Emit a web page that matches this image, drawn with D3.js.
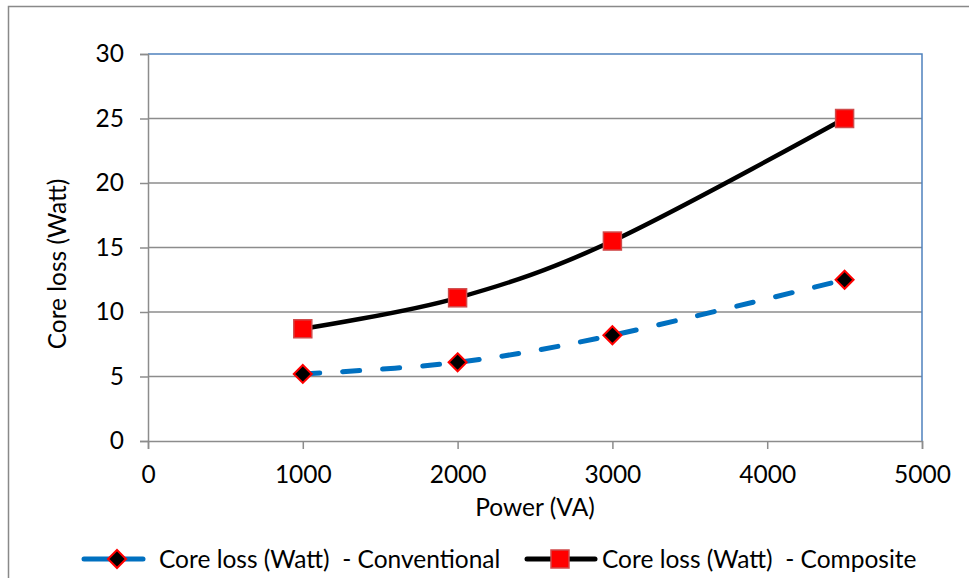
<!DOCTYPE html>
<html>
<head>
<meta charset="utf-8">
<script src="https://cdn.jsdelivr.net/npm/d3@7"></script>
<style>
  html, body { margin: 0; padding: 0; background: #fff; }
  svg { display: block; font-family: Lato, "Open Sans", sans-serif; }
</style>
</head>
<body>
<svg id="chart" width="969" height="578"></svg>
<script>
// Core loss vs. power rating for the two transformer designs
const powerVA = [1000, 2000, 3000, 4500];
const conventionalLoss = [5.2, 6.1, 8.2, 12.5];
const compositeLoss = [8.7, 11.1, 15.5, 25.0];
const xTicks = [0, 1000, 2000, 3000, 4000, 5000];
const yTicks = [0, 5, 10, 15, 20, 25, 30];
const seriesNames = ["Core loss (Watt)  - Conventional", "Core loss (Watt)  - Composite"];

const svg = d3.select("#chart");
const W = 969, H = 578;
const plot = { left: 148, right: 922, top: 54, bottom: 441 };
const fontSize = 24.5;

// outer chart frame
svg.append("rect")
  .attr("x", 8.5).attr("y", 6.5)
  .attr("width", W).attr("height", H)
  .attr("fill", "#fff").attr("stroke", "#898989").attr("stroke-width", 1.5);

const x = d3.scaleLinear().domain([0, 5000]).range([plot.left, plot.right]);
const y = d3.scaleLinear().domain([0, 30]).range([plot.bottom, plot.top]);

// horizontal gridlines
svg.append("g").selectAll("line")
  .data(yTicks.filter(t => t > 0 && t < 30))
  .join("line")
  .attr("x1", plot.left).attr("x2", plot.right)
  .attr("y1", d => y(d)).attr("y2", d => y(d))
  .attr("stroke", "#8c8c8c").attr("stroke-width", 1.5);

// plot-area border: blue top and right edges
svg.append("path")
  .attr("d", `M${plot.left},${y(30)}H${plot.right}V${plot.bottom}`)
  .attr("fill", "none").attr("stroke", "#4f81bd").attr("stroke-width", 1.5);

// axes
const yAxis = svg.append("g")
  .attr("transform", `translate(${plot.left},0)`)
  .call(d3.axisLeft(y).tickValues(yTicks).tickSize(8).tickPadding(16));
const xAxis = svg.append("g")
  .attr("transform", `translate(0,${plot.bottom})`)
  .call(d3.axisBottom(x).tickValues(xTicks).tickSize(8).tickPadding(17).tickFormat(d3.format("d")));

[yAxis, xAxis].forEach(g => {
  g.select(".domain").attr("stroke", "#8c8c8c").attr("stroke-width", 1.5);
  g.selectAll(".tick line").attr("stroke", "#8c8c8c").attr("stroke-width", 1.5);
  g.selectAll(".tick text")
    .attr("fill", "#000")
    .style("font-size", fontSize + "px")
    .style("font-family", "Lato, 'Open Sans', sans-serif");
});

// axis titles
svg.append("text")
  .attr("x", (plot.left + plot.right) / 2).attr("y", 516)
  .attr("text-anchor", "middle")
  .style("font-size", fontSize + "px")
  .text("Power (VA)");
svg.append("text")
  .attr("transform", `translate(66,264) rotate(-90)`)
  .attr("text-anchor", "middle")
  .style("font-size", fontSize + "px")
  .text("Core loss (Watt)");

const line = d3.line()
  .x(d => x(d[0])).y(d => y(d[1]))
  .curve(d3.curveCardinal.tension(0));

const convPts = powerVA.map((p, i) => [p, conventionalLoss[i]]);
const compPts = powerVA.map((p, i) => [p, compositeLoss[i]]);

svg.append("path")
  .attr("d", line(convPts))
  .attr("fill", "none").attr("stroke", "#0070c0").attr("stroke-width", 5)
  .attr("stroke-linecap", "round").attr("stroke-dasharray", "17,23");

svg.append("path")
  .attr("d", line(compPts))
  .attr("fill", "none").attr("stroke", "#000").attr("stroke-width", 4.5);

const diamond = (cx, cy, r) => `M${cx},${cy - r}L${cx + r},${cy}L${cx},${cy + r}L${cx - r},${cy}Z`;

function drawDiamond(g, cx, cy) {
  g.append("path").attr("d", diamond(cx, cy, 9))
    .attr("fill", "#000").attr("stroke", "#ff0000").attr("stroke-width", 2);
}
function drawSquare(g, cx, cy) {
  g.append("rect").attr("x", cx - 9).attr("y", cy - 9)
    .attr("width", 18).attr("height", 18)
    .attr("fill", "#ff0000").attr("stroke", "#d04a4a").attr("stroke-width", 1.5);
}

const markers = svg.append("g");
convPts.forEach(d => drawDiamond(markers, x(d[0]), y(d[1])));
compPts.forEach(d => drawSquare(markers, x(d[0]), y(d[1])));

// legend
const ly = 559;
const leg = svg.append("g");
leg.append("line").attr("x1", 84).attr("x2", 143).attr("y1", ly).attr("y2", ly)
  .attr("stroke", "#0070c0").attr("stroke-width", 5).attr("stroke-linecap", "round");
drawDiamond(leg, 117, ly);
leg.append("text").attr("x", 159).attr("y", ly).attr("dy", "0.35em")
  .style("font-size", fontSize + "px").style("white-space", "pre").text(seriesNames[0]);

leg.append("line").attr("x1", 527).attr("x2", 595).attr("y1", ly).attr("y2", ly)
  .attr("stroke", "#000").attr("stroke-width", 5).attr("stroke-linecap", "round");
drawSquare(leg, 560, ly);
leg.append("text").attr("x", 602).attr("y", ly).attr("dy", "0.35em")
  .style("font-size", fontSize + "px").style("white-space", "pre").text(seriesNames[1]);
</script>
</body>
</html>
